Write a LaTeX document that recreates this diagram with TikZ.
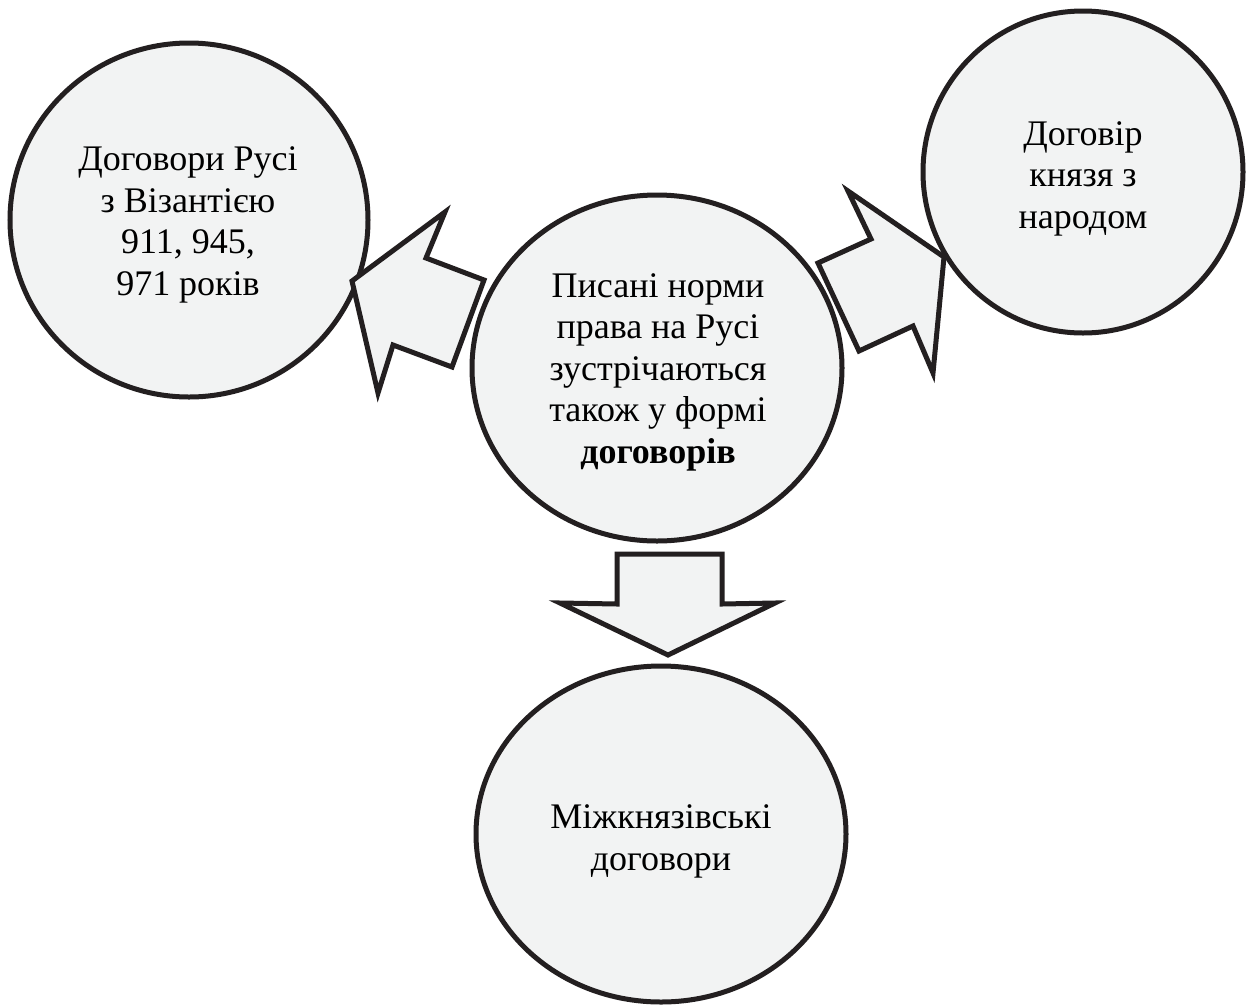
\documentclass[tikz,border=0pt]{standalone}
\usepackage{fontspec}
\setmainfont{Liberation Serif}
\usetikzlibrary{shapes.geometric}
\definecolor{fillgray}{RGB}{242,243,243}
\definecolor{inkline}{RGB}{35,31,32}
\tikzset{
  blob/.style={ellipse, draw=inkline, fill=fillgray, line width=5pt, inner sep=0pt},
  blockarrow/.style={draw=inkline, fill=fillgray, line width=5pt, line join=miter, miter limit=10},
  label/.style={align=center, inner sep=0pt, text=black, font=\fontsize{36}{41.5}\selectfont, anchor=base}
}
\begin{document}
\begin{tikzpicture}[x=1pt,y=-1pt]
\useasboundingbox (0,0) rectangle (1253,1005);
\fill[white] (0,0) rectangle (1253,1005);
% circles
\node[blob, minimum width=358pt, minimum height=354pt] (left) at (189,220) {};
\node[blob, minimum width=320pt, minimum height=322pt] (right) at (1083,172) {};
\node[blob, minimum width=370pt, minimum height=346pt] (center) at (657,368) {};
\node[blob, minimum width=370pt, minimum height=336pt] (bottom) at (661,834) {};
% block arrows
\coordinate (ltip) at (352,281);
\coordinate (rtip) at (944,257);
\coordinate (dtip) at (668,655);
\draw[blockarrow] (ltip) -- (445,212) -- (426,258) -- (484,280) -- (452,367) -- (393,345) -- (378,393) -- cycle;
\draw[blockarrow] (rtip) -- (848,191) -- (871,239) -- (818,263) -- (859,351) -- (913,326) -- (933,373) -- cycle;
\draw[blockarrow] (dtip) -- (560,603) -- (617,604) -- (617,554) -- (722,554) -- (722,604) -- (775,603) -- cycle;
% texts (anchor = baseline of last line)
\node[label] (lefttext) at (188,295) {Договори Русі\\з Візантією\\911, 945,\\971 років};
\node[label] (righttext) at (1083,228) {Договір\\князя з\\народом};
\node[label] (centertext) at (658,463) {Писані норми\\права на Русі\\зустрічаються\\також у формі\\\textbf{договорів}};
\node[label] (bottomtext) at (661,870) {Міжкнязівські\\договори};
\end{tikzpicture}
\end{document}
